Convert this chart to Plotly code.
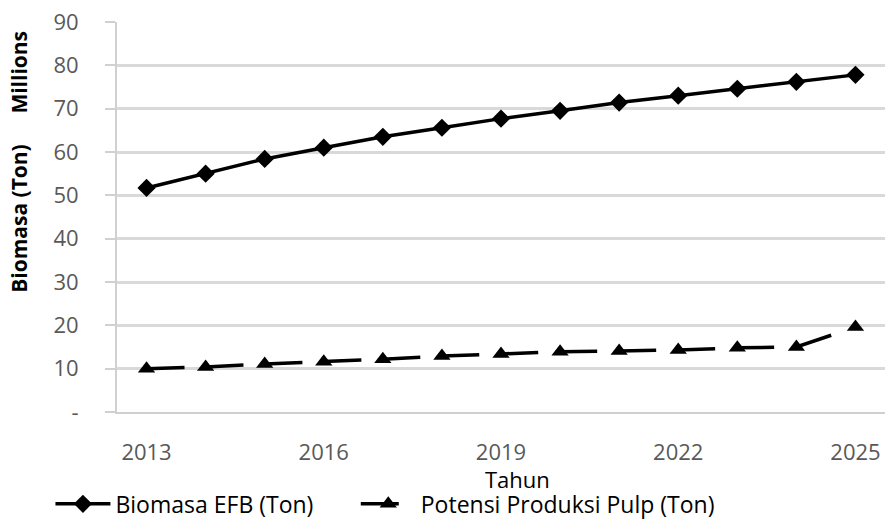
import plotly.graph_objects as go

# -----------------------------
# Data
# -----------------------------

years = [str(y) for y in range(2013, 2026)]

biomasa_efb = [51.7, 55.0, 58.4, 61.0, 63.5, 65.6, 67.7,
               69.5, 71.4, 73.0, 74.6, 76.2, 77.8]

potensi_pulp = [10.0, 10.4, 11.1, 11.6, 12.2, 12.9, 13.4,
                13.9, 14.1, 14.3, 14.8, 15.0, 19.6]

y_tickvals = [0, 10, 20, 30, 40, 50, 60, 70, 80, 90]
y_ticktext = ["-", "10", "20", "30", "40", "50", "60", "70", "80", "90"]
x_tickvals = years[::3]

FONT = "Open Sans"
TICK_GREY = "#595959"

LEGEND_STYLE = dict(
    orientation="h",
    xref="container",
    yref="container",
    y=0.031,
    xanchor="left",
    yanchor="middle",
    font=dict(family=FONT, size=23, color="black"),
    itemwidth=55,
    bgcolor="rgba(0,0,0,0)",
)

fig = go.Figure()

fig.add_trace(
    go.Scatter(
        x=years,
        y=biomasa_efb,
        name="Biomasa EFB (Ton)",
        mode="lines+markers",
        line=dict(color="black", width=3.5),
        marker=dict(symbol="diamond", size=14, color="black"),
        legend="legend",
    )
)

fig.add_trace(
    go.Scatter(
        x=years,
        y=potensi_pulp,
        name="Potensi Produksi Pulp (Ton)",
        mode="lines+markers",
        line=dict(color="black", width=3.5, dash="38px,21px"),
        marker=dict(symbol="triangle-up", size=15, color="black"),
        legend="legend2",
    )
)

fig.update_layout(
    width=885,
    height=520,
    paper_bgcolor="white",
    plot_bgcolor="white",
    margin=dict(l=117, r=0, t=22, b=108, autoexpand=False),
    font=dict(family=FONT, size=22, color=TICK_GREY),
    showlegend=True,
    legend=dict(x=0.057, **LEGEND_STYLE),
    legend2=dict(x=0.402, **LEGEND_STYLE),
)

fig.update_xaxes(
    type="category",
    range=[-0.5, 12.5],
    tickvals=x_tickvals,
    automargin=False,
    showgrid=False,
    showline=True,
    linecolor="#d0d0d0",
    linewidth=2,
    ticks="",
    ticklabelstandoff=20,
    tickfont=dict(size=22, color=TICK_GREY),
)

fig.update_yaxes(
    range=[0, 90],
    tickvals=y_tickvals,
    ticktext=y_ticktext,
    automargin=False,
    showgrid=True,
    gridcolor="#d9d9d9",
    gridwidth=2.5,
    showline=True,
    linecolor="#d0d0d0",
    linewidth=2,
    ticks="outside",
    ticklen=10,
    tickcolor="#d0d0d0",
    tickwidth=2,
    ticklabelstandoff=22,
    zeroline=False,
    tickfont=dict(size=22, color=TICK_GREY),
)

fig.add_annotation(
    text="<b>Biomasa (Ton)</b>",
    xref="paper", yref="paper",
    x=-0.128, y=0.497,
    xanchor="center", yanchor="middle",
    textangle=-90,
    showarrow=False,
    font=dict(family=FONT, size=21, color="black"),
)

fig.add_annotation(
    text="<b>Millions</b>",
    xref="paper", yref="paper",
    x=-0.128, y=0.872,
    xanchor="center", yanchor="middle",
    textangle=-90,
    showarrow=False,
    font=dict(family=FONT, size=21, color="black"),
)

fig.add_annotation(
    text="Tahun",
    xref="paper", yref="paper",
    x=0.521, y=-0.172,
    xanchor="center", yanchor="middle",
    showarrow=False,
    font=dict(family=FONT, size=22, color="black"),
)

fig.write_html(
    "out.html",
    config={"displayModeBar": False},
    post_script="document.body.style.margin='0';",
)
